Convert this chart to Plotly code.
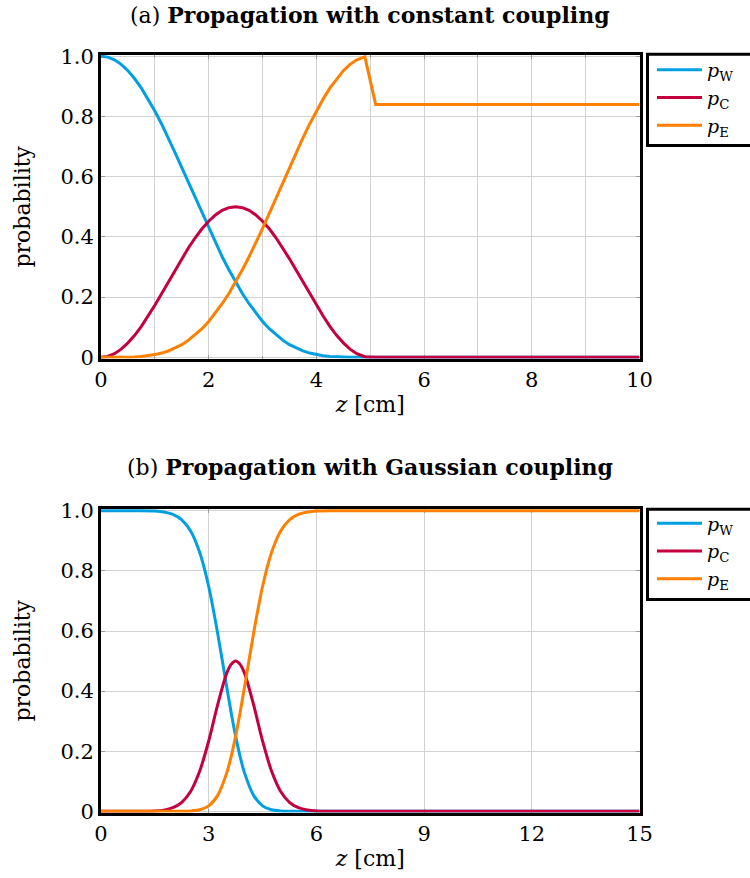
import plotly.graph_objects as go

# ---------- data: (a) constant coupling ----------
z_a = [0, 0.125, 0.25, 0.375, 0.5, 0.625, 0.75, 0.875, 1.0, 1.125, 1.25, 1.375, 1.5,
       1.625, 1.75, 1.875, 2.0, 2.125, 2.25, 2.375, 2.5, 2.625, 2.75, 2.875, 3.0,
       3.125, 3.25, 3.375, 3.5, 3.625, 3.75, 3.875, 4.0, 4.125, 4.25, 4.375, 4.5,
       4.625, 4.75, 4.9, 5.1, 10]
pW_a = [1.000, 0.997, 0.988, 0.973, 0.952, 0.925, 0.894, 0.858, 0.818, 0.775, 0.729,
        0.680, 0.630, 0.580, 0.529, 0.478, 0.428, 0.380, 0.334, 0.291, 0.250, 0.212,
        0.178, 0.147, 0.119, 0.095, 0.075, 0.057, 0.042, 0.031, 0.021, 0.014, 0.009,
        0.005, 0.003, 0.001, 0.001, 0.000, 0.000, 0.000, 0.000, 0.000]
pC_a = [0.000, 0.003, 0.012, 0.027, 0.048, 0.073, 0.103, 0.137, 0.173, 0.211, 0.250,
        0.289, 0.327, 0.364, 0.397, 0.427, 0.452, 0.473, 0.488, 0.497, 0.500, 0.497,
        0.488, 0.473, 0.452, 0.427, 0.397, 0.364, 0.327, 0.289, 0.250, 0.211, 0.173,
        0.137, 0.103, 0.073, 0.048, 0.027, 0.012, 0.002, 0.000, 0.000]
pE_a = [0.000, 0.000, 0.000, 0.000, 0.001, 0.001, 0.003, 0.005, 0.009, 0.014, 0.021,
        0.031, 0.042, 0.057, 0.075, 0.095, 0.119, 0.147, 0.178, 0.212, 0.250, 0.291,
        0.334, 0.380, 0.428, 0.478, 0.529, 0.580, 0.630, 0.680, 0.729, 0.775, 0.818,
        0.858, 0.894, 0.925, 0.952, 0.973, 0.988, 0.998, 0.840, 0.840]

# ---------- data: (b) Gaussian coupling ----------
z_b = [0, 1.0, 1.5, 1.75, 2.0, 2.25, 2.5, 2.75, 3.0, 3.25, 3.5, 3.625, 3.75, 3.875,
       4.0, 4.25, 4.5, 4.75, 5.0, 5.25, 5.5, 5.75, 6.0, 6.5, 15]
pW_b = [1.000, 1.000, 0.999, 0.996, 0.988, 0.970, 0.932, 0.861, 0.748, 0.592, 0.415, 0.329,
        0.250, 0.182, 0.127, 0.053, 0.018, 0.005, 0.001, 0.000, 0.000, 0.000, 0.000, 0.000, 0.000]
pC_b = [0.000, 0.000, 0.001, 0.004, 0.012, 0.030, 0.067, 0.134, 0.234, 0.355, 0.459, 0.489,
        0.500, 0.489, 0.459, 0.355, 0.234, 0.134, 0.067, 0.030, 0.012, 0.004, 0.001, 0.000, 0.000]
pE_b = [0.000, 0.000, 0.000, 0.000, 0.000, 0.000, 0.001, 0.005, 0.018, 0.053, 0.127, 0.182,
        0.250, 0.329, 0.415, 0.592, 0.748, 0.861, 0.932, 0.970, 0.988, 0.996, 0.999, 1.000, 1.000]

names = ["<i>p</i><sub>W</sub>", "<i>p</i><sub>C</sub>", "<i>p</i><sub>E</sub>"]
colors = ["#00a0e0", "#c4003e", "#ff8000"]

ytickvals = [0, 0.2, 0.4, 0.6, 0.8, 1.0]
yticktext = ["0", "0.2", "0.4", "0.6", "0.8", "1.0"]
xtick_a = [0, 2, 4, 6, 8, 10]
xtick_b = [0, 3, 6, 9, 12, 15]

FONT = "DejaVu Serif"
W, H = 750, 878


def px(X):
    return X / W


def py(Y):
    return 1 - Y / H


fig = go.Figure()
for nm, ys, c in zip(names, [pW_a, pC_a, pE_a], colors):
    fig.add_trace(go.Scatter(x=z_a, y=ys, mode="lines", name=nm,
                             line=dict(color=c, width=3), xaxis="x", yaxis="y",
                             legend="legend"))
for nm, ys, c in zip(names, [pW_b, pC_b, pE_b], colors):
    fig.add_trace(go.Scatter(x=z_b, y=ys, mode="lines", name=nm,
                             line=dict(color=c, width=3, shape="spline", smoothing=0.8),
                             xaxis="x2", yaxis="y2", legend="legend2"))

grid = "#d2d2d2"
tickc = "#9a9a9a"
common_ax = dict(showline=True, linecolor="black", linewidth=3, mirror="ticks",
                 ticks="inside", ticklen=4, tickcolor=tickc, showgrid=True,
                 gridcolor=grid, gridwidth=1, zeroline=False, layer="below traces",
                 tickfont=dict(family=FONT, size=21, color="black"))

xdom = [px(101), px(639.5)]
dom_a = [py(358.5), py(55)]
dom_b = [py(812.5), py(509)]

leg_common = dict(xanchor="left", yanchor="top", borderwidth=0,
                  bgcolor="rgba(0,0,0,0)", font=dict(family=FONT, size=19),
                  itemwidth=45, tracegroupgap=0)

# legend frames (extend past the right edge like the reference)
frame_style = dict(type="rect", xref="paper", yref="paper",
                   line=dict(color="black", width=3), fillcolor="rgba(0,0,0,0)")

xtitle = dict(text="<i>z</i> [cm]", font=dict(size=22), standoff=6)
ytitle = dict(text="probability", font=dict(size=22), standoff=24)

fig.update_layout(
    width=W, height=H,
    margin=dict(l=0, r=0, t=0, b=0, autoexpand=False),
    paper_bgcolor="white", plot_bgcolor="white",
    font=dict(family=FONT, color="black"),
    xaxis=dict(domain=xdom, anchor="y", range=[0, 10], tickvals=xtick_a,
               minor=dict(dtick=1, showgrid=True, gridcolor=grid, ticks="inside",
                          ticklen=3, tickcolor=tickc),
               title=xtitle, **common_ax),
    yaxis=dict(domain=dom_a, anchor="x", range=[-0.004, 1.004], tickvals=ytickvals,
               ticktext=yticktext, title=ytitle, **common_ax),
    xaxis2=dict(domain=xdom, anchor="y2", range=[0, 15], tickvals=xtick_b,
                title=xtitle, **common_ax),
    yaxis2=dict(domain=dom_b, anchor="x2", range=[-0.004, 1.006], tickvals=ytickvals,
                ticktext=yticktext, title=ytitle, **common_ax),
    legend=dict(x=px(652), y=py(51), **leg_common),
    legend2=dict(x=px(652), y=py(504.5), **leg_common),
    showlegend=True,
    shapes=[
        dict(x0=px(647.5), x1=px(800), y0=py(145.5), y1=py(54.2), **frame_style),
        dict(x0=px(647.5), x1=px(800), y0=py(599.5), y1=py(509.2), **frame_style),
    ],
    annotations=[
        dict(text="(a) <b>Propagation with constant coupling</b>", x=px(370),
             y=py(15), xref="paper", yref="paper", showarrow=False,
             xanchor="center", yanchor="middle", font=dict(family=FONT, size=22)),
        dict(text="(b) <b>Propagation with Gaussian coupling</b>", x=px(370),
             y=py(467), xref="paper", yref="paper", showarrow=False,
             xanchor="center", yanchor="middle", font=dict(family=FONT, size=22)),
    ],
)

fig.write_html("out.html", config={"displayModeBar": False},
               post_script="document.body.style.margin='0';"
                           "document.body.style.overflow='hidden';")
